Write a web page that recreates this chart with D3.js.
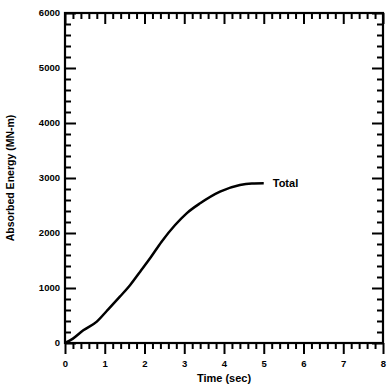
<!DOCTYPE html>
<html><head><meta charset="utf-8">
<script src="https://cdn.jsdelivr.net/npm/d3@7"></script>
<style>body{margin:0;background:#fff}text{font-family:"Liberation Sans",Arial,sans-serif;font-weight:bold;fill:#000}</style>
</head><body><svg id="c" width="389" height="390"></svg>
<script>
const timeSec = [0, 0.2, 0.46, 0.8, 1.05, 1.38, 1.64, 1.89, 2.14, 2.43, 2.77, 3.06, 3.4, 3.9, 4.4, 4.7, 5.0];
const energyTotal = [0, 80, 230, 388, 582, 842, 1055, 1297, 1540, 1842, 2145, 2358, 2540, 2752, 2873, 2900, 2905];
const seriesLabel = "Total";
const xTicks = [0,1,2,3,4,5,6,7,8];
const yTicks = [0,1000,2000,3000,4000,5000,6000];
const xTitle = "Time (sec)";
const yTitle = "Absorbed Energy (MN-m)";

const svg = d3.select("#c");
const L=65, R=383, T=13, B=343;
const x = d3.scaleLinear().domain([0,8]).range([L,R]);
const y = d3.scaleLinear().domain([0,6000]).range([B,T]);
const majL=11, minL=6;
const xMinor = d3.range(0,8.001,0.2).filter(v=>Math.abs(v-Math.round(v))>1e-6);
const yMinor = d3.range(0,6001,200).filter(v=>v%1000!==0);

const g = svg.append("g");
const bx = g.append("g").attr("transform",`translate(0,${B})`);
bx.call(d3.axisBottom(x).tickValues(xTicks).tickSize(majL).tickPadding(6).tickFormat(d3.format("d")));
bx.append("g").call(d3.axisBottom(x).tickValues(xMinor).tickSize(minL).tickFormat(""));
const tx = g.append("g").attr("transform",`translate(0,${T})`);
tx.call(d3.axisBottom(x).tickValues(xTicks).tickSize(majL).tickFormat(""));
tx.append("g").call(d3.axisBottom(x).tickValues(xMinor).tickSize(minL).tickFormat(""));
const lx = g.append("g").attr("transform",`translate(${L},0)`);
lx.call(d3.axisRight(y).tickValues(yTicks).tickSize(majL).tickFormat(""));
lx.append("g").call(d3.axisRight(y).tickValues(yMinor).tickSize(minL).tickFormat(""));
lx.selectAll(null).data(yTicks).enter().append("text")
  .attr("x",-5).attr("y",d=>y(d)).attr("dy","0.35em").attr("text-anchor","end")
  .attr("font-size",9.5).text(d=>d);
const rx = g.append("g").attr("transform",`translate(${R},0)`);
rx.call(d3.axisLeft(y).tickValues(yTicks).tickSize(majL).tickFormat(""));
rx.append("g").call(d3.axisLeft(y).tickValues(yMinor).tickSize(minL).tickFormat(""));

g.selectAll(".domain").remove();
g.selectAll(".tick line").attr("stroke","#000").attr("stroke-width",2);
bx.selectAll(".tick text").attr("font-size",9.5).attr("font-family","Liberation Sans, Arial").attr("font-weight","bold").attr("fill","#000");

svg.append("rect").attr("x",L).attr("y",T).attr("width",R-L).attr("height",B-T)
  .attr("fill","none").attr("stroke","#000").attr("stroke-width",2.2);

const data = timeSec.map((t,i)=>[t,energyTotal[i]]);
svg.append("path").datum(data)
  .attr("d",d3.line().x(d=>x(d[0])).y(d=>y(d[1])).curve(d3.curveMonotoneX))
  .attr("fill","none").attr("stroke","#000").attr("stroke-width",2.5);
const last = data[data.length-1];
svg.append("text").attr("x",x(last[0])+9).attr("y",y(last[1])).attr("dy","0.35em")
  .attr("font-size",11).text(seriesLabel);

svg.append("text").attr("x",(L+R)/2).attr("y",382).attr("text-anchor","middle")
  .attr("font-size",11).text(xTitle);
svg.append("text").attr("transform",`translate(14,${(T+B)/2}) rotate(-90)`)
  .attr("text-anchor","middle").attr("font-size",10.5).text(yTitle);
</script></body></html>
